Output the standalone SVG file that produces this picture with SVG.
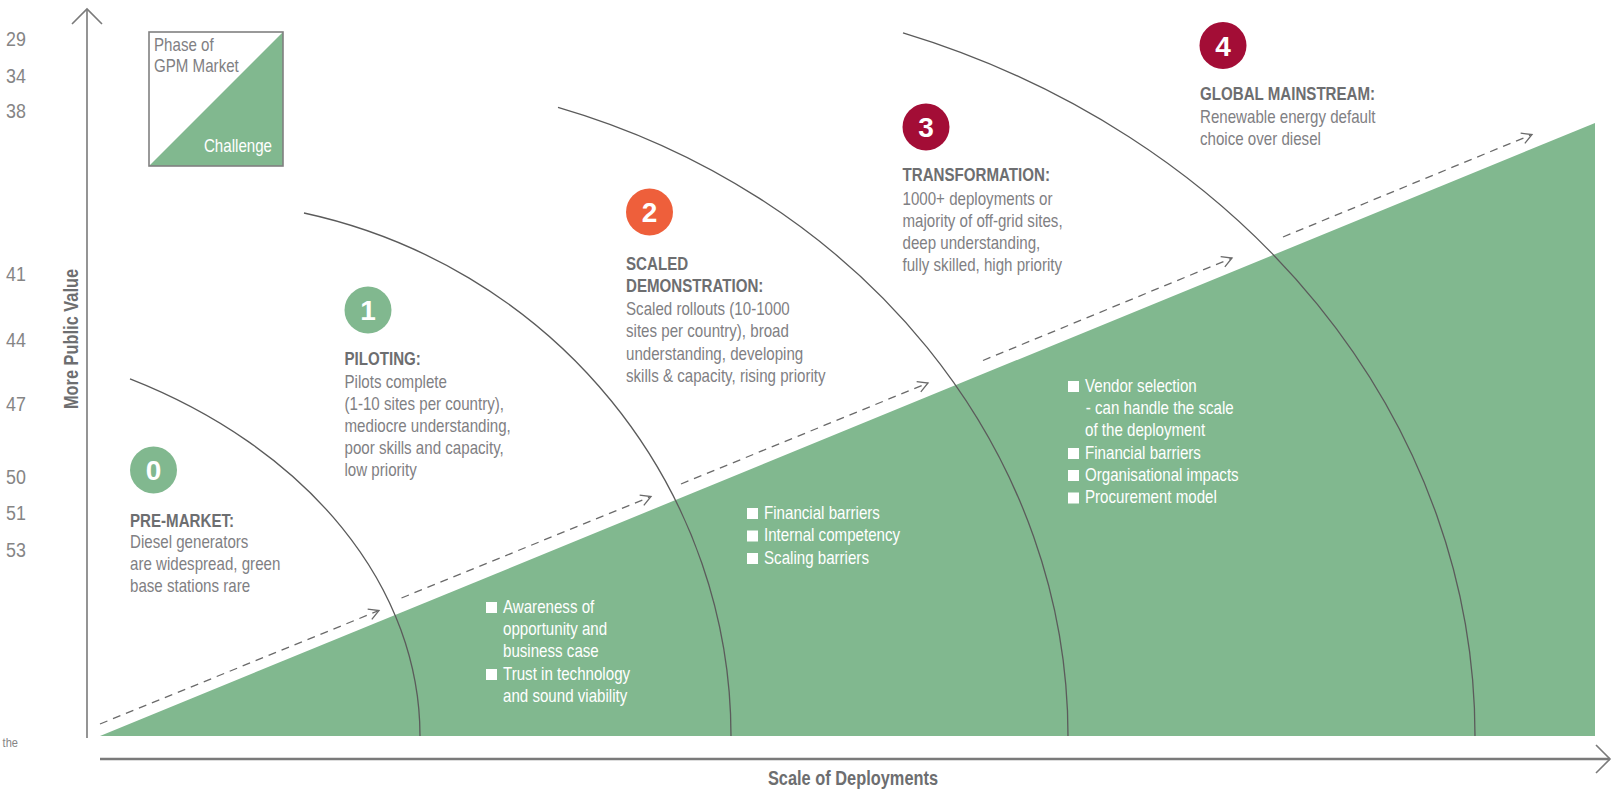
<svg xmlns="http://www.w3.org/2000/svg" width="1623" height="790" viewBox="0 0 1623 790">
  <defs>
    <style>
      text { font-family: "Liberation Sans", Arial, sans-serif; }
      .num { font-size: 21px; fill: #858585; }
      .head { font-size: 18px; font-weight: bold; fill: #6d6e70; }
      .body { font-size: 18px; fill: #7f8083; }
      .bul { font-size: 18px; fill: #ffffff; }
      .axis-label { font-size: 19.5px; font-weight: bold; fill: #6d6e70; }
      .badge { font-size: 28px; font-weight: bold; fill: #ffffff; text-anchor: middle; }
      .sq { fill: #ffffff; }
      .arc { fill: none; stroke: #5b5b5b; stroke-width: 1.3; }
      .axis { fill: none; stroke: #7a7a7a; stroke-width: 1.6; }
      .dash { fill: none; stroke: #6a6a6a; stroke-width: 1.3; stroke-dasharray: 8 6; marker-end: url(#open-arrow); }
      .green { fill: #81b88f; }
    </style>
    <marker id="open-arrow" markerUnits="userSpaceOnUse" markerWidth="14" markerHeight="14" refX="11" refY="6" orient="auto" viewBox="0 0 14 12">
      <path d="M1,0.5 L11,6 L1,11.5" fill="none" stroke="#6a6a6a" stroke-width="1.3" stroke-dasharray="none"/>
    </marker>
  </defs>

  <rect x="0" y="0" width="1623" height="790" fill="#ffffff"/>

  <!-- page margin numbers (condensed by horizontal scaling) -->
  <g id="margin-numbers" class="num" transform="translate(6,0) scale(0.85,1)">
    <text x="0" y="46.5">29</text>
    <text x="0" y="83">34</text>
    <text x="0" y="118">38</text>
    <text x="0" y="281">41</text>
    <text x="0" y="347">44</text>
    <text x="0" y="411">47</text>
    <text x="0" y="484">50</text>
    <text x="0" y="520">51</text>
    <text x="0" y="557">53</text>
    <text x="-4" y="747" style="font-size:13px">the</text>
  </g>

  <!-- challenge wedge -->
  <polygon id="challenge-area" class="green" points="100,736 1595,123 1595,736"/>

  <!-- axes -->
  <g id="axes">
    <line class="axis" x1="87" y1="9" x2="87" y2="738"/>
    <polyline class="axis" points="72,24 87,9 102,24"/>
    <line class="axis" x1="100" y1="759" x2="1610" y2="759" style="stroke-width:2.4"/>
    <polyline class="axis" points="1596,745 1610,759 1596,773"/>
    <text class="axis-label" text-anchor="middle" transform="translate(78,339) rotate(-90) scale(0.84,1)">More Public Value</text>
    <text class="axis-label" text-anchor="middle" transform="translate(853,785) scale(0.84,1)">Scale of Deployments</text>
  </g>

  <!-- legend -->
  <g id="legend">
    <polygon class="green" points="149,166 283,32 283,166"/>
    <rect x="149" y="32" width="134" height="134" fill="none" stroke="#808080" stroke-width="1.6"/>
    <g transform="translate(154,0) scale(0.84,1)">
      <text class="body" x="0" y="51">Phase of</text>
      <text class="body" x="0" y="72.5">GPM Market</text>
    </g>
    <text class="bul" text-anchor="end" transform="translate(272,151.5) scale(0.84,1)">Challenge</text>
  </g>

  <!-- phase boundaries -->
  <g id="boundaries">
    <path class="arc" d="M130,378.9 A545,404 0 0 1 420,736"/>
    <path class="arc" d="M304,213 A544,535.6 0 0 1 731,736"/>
    <path class="arc" d="M558,107.3 A738,661 0 0 1 1068,736"/>
    <path class="arc" d="M903,32.9 A850,744 0 0 1 1475,736"/>
  </g>

  <!-- progression connectors -->
  <g id="connectors">
    <path class="dash" d="M100,724 L379,610.5"/>
    <path class="dash" d="M401.5,598 L651,496.5"/>
    <path class="dash" d="M681,484 L928,383"/>
    <path class="dash" d="M983,360.5 L1232,258"/>
    <path class="dash" d="M1283,237 L1532,134.5"/>
  </g>

  <!-- phase 0 -->
  <g id="phase-0">
    <circle cx="153.5" cy="470" r="23.5" fill="#81b88f"/>
    <text class="badge" x="153.5" y="480">0</text>
    <g transform="translate(130,0) scale(0.84,1)">
      <text class="head" x="0" y="527">PRE-MARKET:</text>
      <text class="body" x="0" y="548.5">Diesel generators</text>
      <text class="body" x="0" y="570.5">are widespread, green</text>
      <text class="body" x="0" y="592.5">base stations rare</text>
    </g>
  </g>

  <!-- phase 1 -->
  <g id="phase-1">
    <circle cx="368" cy="310" r="23.5" fill="#81b88f"/>
    <text class="badge" x="368" y="320">1</text>
    <g transform="translate(344.5,0) scale(0.84,1)">
      <text class="head" x="0" y="365">PILOTING:</text>
      <text class="body" x="0" y="388">Pilots complete</text>
      <text class="body" x="0" y="410">(1-10 sites per country),</text>
      <text class="body" x="0" y="432">mediocre understanding,</text>
      <text class="body" x="0" y="454">poor skills and capacity,</text>
      <text class="body" x="0" y="476.5">low priority</text>
    </g>
  </g>

  <!-- phase 2 -->
  <g id="phase-2">
    <circle cx="649.5" cy="212" r="23.5" fill="#ee5f3b"/>
    <text class="badge" x="649.5" y="222">2</text>
    <g transform="translate(626,0) scale(0.84,1)">
      <text class="head" x="0" y="270.5">SCALED</text>
      <text class="head" x="0" y="292.5">DEMONSTRATION:</text>
      <text class="body" x="0" y="315">Scaled rollouts (10-1000</text>
      <text class="body" x="0" y="337.5">sites per country), broad</text>
      <text class="body" x="0" y="360">understanding, developing</text>
      <text class="body" x="0" y="382">skills &amp; capacity, rising priority</text>
    </g>
  </g>

  <!-- phase 3 -->
  <g id="phase-3">
    <circle cx="926" cy="127" r="23.5" fill="#a30d36"/>
    <text class="badge" x="926" y="137">3</text>
    <g transform="translate(902.5,0) scale(0.84,1)">
      <text class="head" x="0" y="181.5">TRANSFORMATION:</text>
      <text class="body" x="0" y="205">1000+ deployments or</text>
      <text class="body" x="0" y="227">majority of off-grid sites,</text>
      <text class="body" x="0" y="249">deep understanding,</text>
      <text class="body" x="0" y="271.5">fully skilled, high priority</text>
    </g>
  </g>

  <!-- phase 4 -->
  <g id="phase-4">
    <circle cx="1223" cy="45.5" r="23.5" fill="#a30d36"/>
    <text class="badge" x="1223" y="55.5">4</text>
    <g transform="translate(1200,0) scale(0.84,1)">
      <text class="head" x="0" y="100">GLOBAL MAINSTREAM:</text>
      <text class="body" x="0" y="123">Renewable energy default</text>
      <text class="body" x="0" y="145.5">choice over diesel</text>
    </g>
  </g>

  <!-- challenges per phase -->
  <g id="challenges-1">
    <rect class="sq" x="486" y="602" width="11" height="11"/>
    <rect class="sq" x="486" y="669" width="11" height="11"/>
    <g transform="translate(503,0) scale(0.84,1)">
      <text class="bul" x="0" y="613">Awareness of</text>
      <text class="bul" x="0" y="635.5">opportunity and</text>
      <text class="bul" x="0" y="657.5">business case</text>
      <text class="bul" x="0" y="680">Trust in technology</text>
      <text class="bul" x="0" y="702">and sound viability</text>
    </g>
  </g>

  <g id="challenges-2">
    <rect class="sq" x="747" y="508" width="11" height="11"/>
    <rect class="sq" x="747" y="530.5" width="11" height="11"/>
    <rect class="sq" x="747" y="553" width="11" height="11"/>
    <g transform="translate(764,0) scale(0.84,1)">
      <text class="bul" x="0" y="519">Financial barriers</text>
      <text class="bul" x="0" y="541.5">Internal competency</text>
      <text class="bul" x="0" y="564">Scaling barriers</text>
    </g>
  </g>

  <g id="challenges-3">
    <rect class="sq" x="1068" y="381" width="11" height="11"/>
    <rect class="sq" x="1068" y="448" width="11" height="11"/>
    <rect class="sq" x="1068" y="470" width="11" height="11"/>
    <rect class="sq" x="1068" y="492.5" width="11" height="11"/>
    <g transform="translate(1085,0) scale(0.84,1)">
      <text class="bul" x="0" y="392">Vendor selection</text>
      <text class="bul" x="1" y="414">- can handle the scale</text>
      <text class="bul" x="0" y="436.5">of the deployment</text>
      <text class="bul" x="0" y="459">Financial barriers</text>
      <text class="bul" x="0" y="481">Organisational impacts</text>
      <text class="bul" x="0" y="503.5">Procurement model</text>
    </g>
  </g>
</svg>
